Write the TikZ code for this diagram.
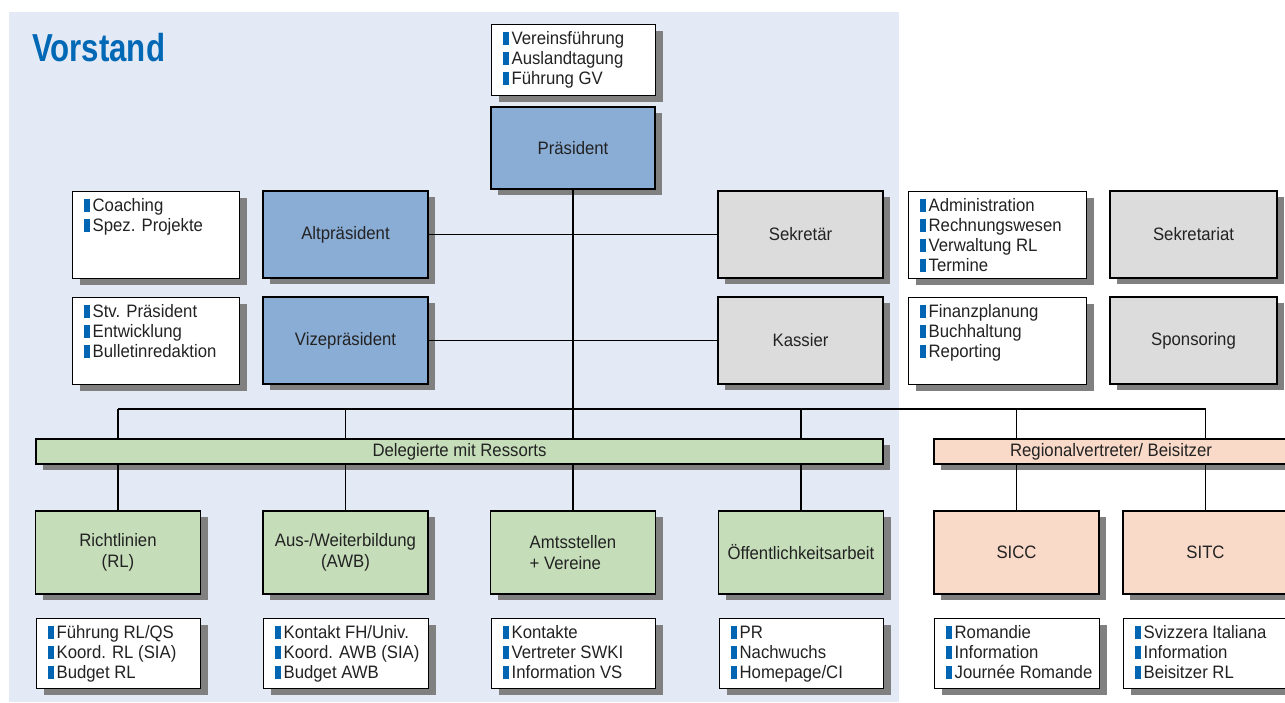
\documentclass[tikz,border=0pt]{standalone}
\usepackage{fontspec}
\setmainfont{Liberation Sans}[FakeStretch=0.93]
\newfontfamily\titelfont{Liberation Sans}[FakeStretch=0.80]
\usetikzlibrary{shadows}

\definecolor{flaeche}{HTML}{E3E9F5}
\definecolor{blaubox}{HTML}{8AADD6}
\definecolor{graubox}{HTML}{DCDCDC}
\definecolor{gruenbox}{HTML}{C5DDB9}
\definecolor{lachsbox}{HTML}{F9D9C8}
\definecolor{schatten}{HTML}{808080}
\definecolor{punktblau}{HTML}{0066B3}
\definecolor{titelblau}{HTML}{0068B5}
\definecolor{schrift}{HTML}{222222}

\newcommand{\pkt}{\textcolor{punktblau}{\rule{5.5pt}{12.9pt}}\hspace{3pt}}
\newcommand{\liste}[3]{\parbox[t][#1pt][t]{#2pt}{\begin{tabular}[t]{@{}l@{}}#3\end{tabular}}}

\tikzset{
  kasten/.style={draw, line width=1.3pt, text=schrift, align=center, inner sep=2pt,
    font=\fontsize{18}{21.5}\selectfont,
    drop shadow={shadow xshift=7pt, shadow yshift=-6pt, opacity=1, fill=schatten}},
  gross/.style={minimum width=165pt, minimum height=87pt},
  blau/.style={kasten, fill=blaubox},
  grau/.style={kasten, fill=graubox},
  gruen/.style={kasten, fill=gruenbox, minimum width=165pt, minimum height=83pt},
  lachs/.style={kasten, fill=lachsbox, minimum width=165pt, minimum height=83pt},
  liste/.style={kasten, fill=white, anchor=north west, inner xsep=11.5pt, inner ysep=6pt,
    align=left, font=\fontsize{18}{20}\selectfont},
  balken/.style={kasten, minimum height=25pt, inner sep=0pt},
  linie/.style={line width=1.2pt, black},
  titel/.style={text=titelblau, font=\titelfont\bfseries\fontsize{39}{39}\selectfont, inner sep=0pt}
}

\begin{document}
\begin{tikzpicture}[x=1pt, y=-1pt]
  \useasboundingbox (0,0) rectangle (1285,702);
  \fill[flaeche] (9,12) rectangle (899,702); %Vorstand
  \node[titel, anchor=base west] (titel) at (32,61) {Vorstand};

  % Praesident
  \node[liste] (aufgpraes) at (491,24) {\liste{59}{141}{\pkt Vereinsführung\\\pkt Auslandtagung\\\pkt Führung GV}};
  \node[blau, minimum width=164pt, minimum height=82pt] (praes) at (573,148) {Präsident};

  % obere Reihe
  \node[liste] (aufgalt) at (72,191) {\liste{75}{144}{\pkt Coaching\\\pkt Spez. Projekte}};
  \node[blau, gross] (alt) at (345.5,234.5) {Altpräsident};
  \node[grau, gross] (sekr) at (800.5,234.5) {Sekretär};
  \node[liste] (aufgsekr) at (908,191) {\liste{75}{155}{\pkt Administration\\\pkt Rechnungswesen\\\pkt Verwaltung RL\\\pkt Termine}};
  \node[grau, gross, minimum width=167pt] (sekrariat) at (1193.5,234.5) {Sekretariat};

  % untere Reihe
  \node[liste] (aufgvize) at (72,297) {\liste{75}{144}{\pkt Stv. Präsident\\\pkt Entwicklung\\\pkt Bulletinredaktion}};
  \node[blau, gross] (vize) at (345.5,340.5) {Vizepräsident};
  \node[grau, gross] (kass) at (800.5,340.5) {Kassier};
  \node[liste] (aufgkass) at (908,297) {\liste{75}{155}{\pkt Finanzplanung\\\pkt Buchhaltung\\\pkt Reporting}};
  \node[grau, gross, minimum width=167pt] (spons) at (1193.5,340.5) {Sponsoring};

  % Balken
  \node[balken, fill=gruenbox, minimum width=847pt] (deleg) at (459.5,451.5) {Delegierte mit Ressorts};
  \node[balken, fill=lachsbox, minimum width=354pt] (region) at (1111,451.5) {Regionalvertreter/ Beisitzer};

  % Ressorts
  \node[gruen] (rl) at (118,552.5) {Richtlinien\\(RL)};
  \node[gruen] (awb) at (345.5,552.5) {Aus-/Weiterbildung\\(AWB)};
  \node[gruen, align=left] (amt) at (573,552.5) {Amtsstellen\\+ Vereine};
  \node[gruen] (oeff) at (801,552.5) {Öffentlichkeitsarbeit};
  \node[lachs] (sicc) at (1016.5,552.5) {SICC};
  \node[lachs] (sitc) at (1205.5,552.5) {SITC};

  \node[liste] (aufgrl) at (36,618) {\liste{58}{141}{\pkt Führung RL/QS\\\pkt Koord. RL (SIA)\\\pkt Budget RL}};
  \node[liste] (aufgawb) at (263,618) {\liste{58}{142}{\pkt Kontakt FH/Univ.\\\pkt Koord. AWB (SIA)\\\pkt Budget AWB}};
  \node[liste] (aufgamt) at (491,618) {\liste{58}{141}{\pkt Kontakte\\\pkt Vertreter SWKI\\\pkt Information VS}};
  \node[liste] (aufgoeff) at (719,618) {\liste{58}{141}{\pkt PR\\\pkt Nachwuchs\\\pkt Homepage/CI}};
  \node[liste] (aufgsicc) at (934,618) {\liste{58}{142}{\pkt Romandie\\\pkt Information\\\pkt Journée Romande}};
  \node[liste] (aufgsitc) at (1123,618) {\liste{58}{142}{\pkt Svizzera Italiana\\\pkt Information\\\pkt Beisitzer RL}};

  % Linien
  \coordinate (knoten) at (573,409);
  \draw[linie] (alt.east) -- (sekr.west);
  \draw[linie] (vize.east) -- (kass.west);
  \draw[linie] (praes.south) -- (knoten);
  \draw[linie] (rl.north |- knoten) -- (sitc.north |- knoten);
  \foreach \k in {rl,awb,amt,oeff}{
    \draw[linie] (\k.north |- knoten) -- (\k.north |- deleg.north);
    \draw[linie] (\k.north |- deleg.south) -- (\k.north);
  }
  \foreach \k in {sicc,sitc}{
    \draw[linie] (\k.north |- knoten) -- (\k.north |- region.north);
    \draw[linie] (\k.north |- region.south) -- (\k.north);
  }
\end{tikzpicture}
\end{document}
